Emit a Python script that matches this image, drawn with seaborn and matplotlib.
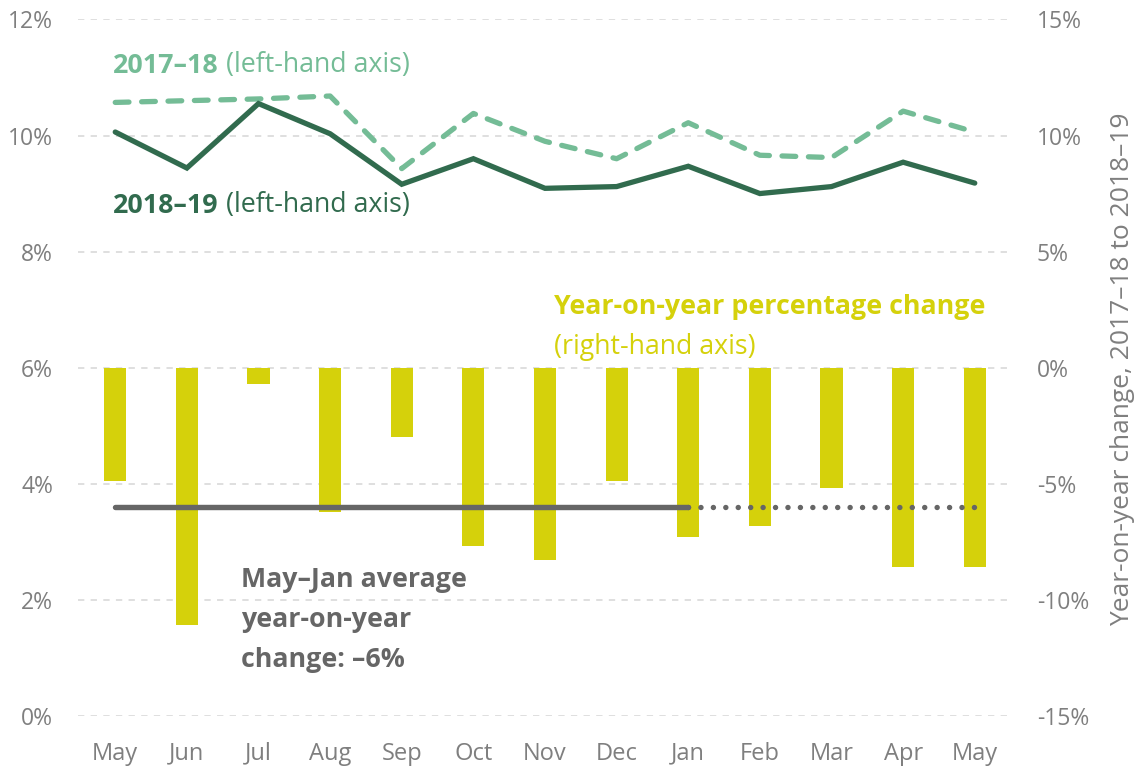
import matplotlib
matplotlib.use("Agg")
import matplotlib.pyplot as plt
import seaborn as sns
import pandas as pd
import numpy as np
from matplotlib.ticker import FuncFormatter

# ---- data ----
months = ["May", "Jun", "Jul", "Aug", "Sep", "Oct", "Nov", "Dec", "Jan", "Feb", "Mar", "Apr", "May"]
share_2017_18 = [10.57, 10.60, 10.63, 10.68, 9.43, 10.38, 9.90, 9.60, 10.22, 9.66, 9.62, 10.42, 10.06]
share_2018_19 = [10.06, 9.44, 10.55, 10.03, 9.16, 9.60, 9.09, 9.12, 9.47, 9.00, 9.12, 9.54, 9.18]
yoy_change = [-4.9, -11.1, -0.7, -6.2, -3.0, -7.7, -8.3, -4.9, -7.3, -6.8, -5.2, -8.6, -8.6]
avg_may_jan = -6.0
left_ticks = [0, 2, 4, 6, 8, 10, 12]
right_ticks = [-15, -10, -5, 0, 5, 10, 15]

C_LIGHT = "#74bc96"
C_DARK = "#316b4e"
C_BAR = "#d5d10b"
C_AVG = "#666666"
C_TICK = "#7f7f7f"
C_GRID = "#dcdcdc"

sns.set_style("white")
plt.rcParams["font.family"] = ["Open Sans", "DejaVu Sans"]

idx = list(range(len(months)))
df = pd.DataFrame({"idx": idx, "month": months, "s1718": share_2017_18,
                   "s1819": share_2018_19, "yoy": yoy_change})

fig = plt.figure(figsize=(11.38, 7.69), dpi=100)
ax = fig.add_axes([78 / 1138, 53 / 769, (1012 - 78) / 1138, (716 - 19.4) / 769])
ax2 = ax.twinx()

ax.set_ylim(0, 12)
ax.set_yticks(left_ticks)

# bars on right axis
sns.barplot(data=df, x="idx", y="yoy", ax=ax2, color=C_BAR, width=0.31,
            saturation=1, order=idx, linewidth=0)
avg_solid = pd.DataFrame({"x": [0, 8], "y": [avg_may_jan, avg_may_jan]})
avg_dot = pd.DataFrame({"x": [8, 12], "y": [avg_may_jan, avg_may_jan]})
sns.lineplot(data=avg_solid, x="x", y="y", ax=ax2, color=C_AVG, linewidth=3.9,
             solid_capstyle="round")
sns.lineplot(data=avg_dot, x="x", y="y", ax=ax2, color=C_AVG, linewidth=3.9,
             linestyle=(0, (0.01, 2.285)), dash_capstyle="round")
ax2.set_ylim(-15, 15)
ax2.set_yticks(right_ticks)

# lines on left axis above ax2
ax.set_zorder(ax2.get_zorder() + 1)
ax.patch.set_visible(False)
ax2.patch.set_visible(True)
ax2.patch.set_facecolor("white")
ax.yaxis.grid(False)
ax.xaxis.grid(False)
ax2.yaxis.grid(True, color=C_GRID, linestyle=(0, (3.5, 3.5)), linewidth=1.3)
ax2.xaxis.grid(False)
ax2.set_axisbelow(True)

sns.lineplot(data=df, x="idx", y="s1718", ax=ax, color=C_LIGHT, linewidth=3.8,
             linestyle=(0, (2.6, 2.4)), dash_capstyle="round")
sns.lineplot(data=df, x="idx", y="s1819", ax=ax, color=C_DARK, linewidth=3.8,
             solid_capstyle="round", solid_joinstyle="miter")

ax.set_xlim(-0.52, 12.52)
ax.set_xticks(idx)
ax.set_xticklabels(months)
ax.set_xlabel("")
ax.set_ylabel("")
ax2.set_xlabel("")
ax2.set_ylabel("")

ax.yaxis.set_major_formatter(FuncFormatter(lambda v, p: f"{v:.0f}%"))
ax2.yaxis.set_major_formatter(FuncFormatter(lambda v, p: f"{v:.0f}%"))
ax.tick_params(axis="y", length=0, pad=18, labelsize=16.5, labelcolor=C_TICK)
ax2.tick_params(axis="y", length=0, pad=18, labelsize=16.5, labelcolor=C_TICK)
ax.tick_params(axis="x", length=0, pad=18.5, labelsize=17, labelcolor=C_TICK)
ax2.tick_params(axis="x", length=0, labelbottom=False)
for a in (ax, ax2):
    for s in a.spines.values():
        s.set_visible(False)

fig.text(1123 / 1138, (769 - 369) / 769, "Year-on-year change, 2017–18 to 2018–19",
         rotation=90, ha="center", va="center", fontsize=19, color=C_TICK)

# annotations
FS = 19.3
def two_part(x, y, bold, regular, color):
    t1 = ax.text(x, y, bold, fontsize=FS, fontweight="bold", color=color,
                 ha="left", va="center")
    ax.annotate(regular, xy=(1, 0), xycoords=t1, ha="left", va="bottom",
                fontsize=FS, color=color)

two_part(-0.03, 11.19, "2017–18", " (left-hand axis)", C_LIGHT)
two_part(-0.03, 8.78, "2018–19", " (left-hand axis)", C_DARK)
ax.text(6.13, 7.05, "Year-on-year percentage change", fontsize=FS, fontweight="bold",
        color=C_BAR, ha="left", va="center")
ax.text(6.13, 6.36, "(right-hand axis)", fontsize=FS, color=C_BAR, ha="left", va="center")
for i, line in enumerate(["May–Jan average", "year-on-year", "change: –6%"]):
    ax.text(1.76, 2.34 - i * 0.69, line, fontsize=FS, fontweight="bold", color=C_AVG,
            ha="left", va="center")

fig.savefig("out.png", dpi=100)
